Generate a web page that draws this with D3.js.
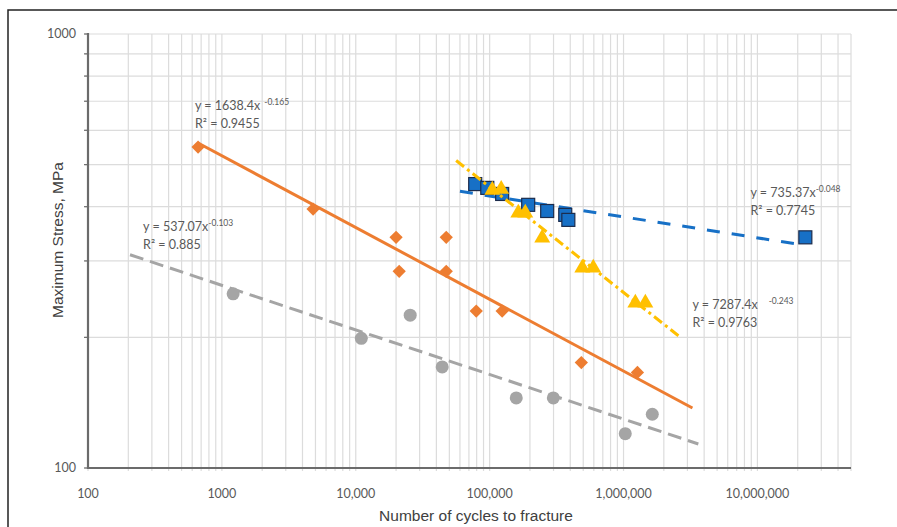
<!DOCTYPE html>
<html>
<head>
<meta charset="utf-8">
<script src="https://d3js.org/d3.v7.min.js"></script>
<style>
  body { margin: 0; background: #fff; }
  svg text { font-family: Lato, 'Open Sans', sans-serif; fill: #595959; }
  .axis-title { font-family: 'Liberation Sans', Arial, sans-serif; fill: #404040; font-size: 15.5px; }
</style>
</head>
<body>
<svg id="chart" width="897" height="527"></svg>
<script>
// tick labels
const xTicks = [100, 1000, 10000, 100000, 1000000, 10000000];
const xTickLabels = ["100", "1000", "10,000", "100,000", "1,000,000", "10,000,000"];
const yTicks = [100, 1000];
const yTickLabels = ["100", "1000"];

// series (cycles, stress MPa)
const grayCycles = [1213, 11000, 25500, 44200, 158000, 299000, 1030000, 1640000];
const grayStress = [252, 199, 225, 171, 145, 145, 120, 133];

const orangeCycles = [664, 4800, 20000, 21100, 47400, 47400, 79400, 124000, 484000, 1270000];
const orangeStress = [549, 395, 340, 284, 340, 284, 230, 230, 175, 166];

const blueCycles = [78000, 96000, 124000, 194000, 269000, 367000, 387000, 22800000];
const blueStress = [451, 442, 428, 404, 391, 383, 373, 340];

const yellowCycles = [104600, 122000, 163700, 184500, 247000, 492000, 594000, 1225000, 1455000];
const yellowStress = [437, 439, 387, 387, 339, 289, 289, 240, 240];

// trendline end points
const grayTrend = [[206, 310], [3620000, 113.6]];
const orangeTrend = [[664, 561], [3270000, 137.5]];
const blueTrend = [[60000, 434], [19900000, 328]];
const yellowTrend = [[56200, 511], [2610000, 201]];

// trendline equations
const eqCoef = ["1638.4", "537.07", "735.37", "7287.4"];
const eqExp = ["-0.165", "-0.103", "-0.048", "-0.243"];
const eqR2 = ["0.9455", "0.885", "0.7745", "0.9763"];

const svg = d3.select("#chart");
const pLeft = 88, pRight = 851, pTop = 34, pBottom = 468;

const x = d3.scaleLog().domain([100, 50000000]).range([pLeft, pRight]);
const y = d3.scaleLog().domain([100, 1000]).range([pBottom, pTop]);

// outer frame
svg.append("path")
  .attr("d", "M8,527 L8,10 L897,10")
  .attr("fill", "none")
  .attr("stroke", "#222")
  .attr("stroke-width", 1.5);

// grid
const xGrid = [];
for (let d = 100; d < 50000000; d *= 10) {
  for (let k = 1; k <= 9; k++) if (d * k <= 50000000) xGrid.push(d * k);
}
const yGrid = d3.range(1, 11).map(k => k * 100);

const grid = svg.append("g");
grid.selectAll(".vg").data(xGrid).enter().append("line")
  .attr("x1", d => x(d)).attr("x2", d => x(d))
  .attr("y1", pTop).attr("y2", pBottom + 3)
  .attr("stroke", "#dcdcdc").attr("stroke-width", 1.2);
grid.selectAll(".hg").data(yGrid).enter().append("line")
  .attr("x1", pLeft - 3).attr("x2", pRight)
  .attr("y1", d => y(d)).attr("y2", d => y(d))
  .attr("stroke", "#dcdcdc").attr("stroke-width", 1.2);

// left tick notches
grid.selectAll(".yt").data(yGrid).enter().append("line")
  .attr("x1", pLeft - 4).attr("x2", pLeft)
  .attr("y1", d => y(d)).attr("y2", d => y(d))
  .attr("stroke", "#6b6b6b").attr("stroke-width", 1.2);

// axis lines
svg.append("line").attr("x1", pLeft).attr("x2", pLeft).attr("y1", pTop - 1).attr("y2", pBottom + 1)
  .attr("stroke", "#6b6b6b").attr("stroke-width", 2.2);
svg.append("line").attr("x1", pLeft - 1).attr("x2", pRight).attr("y1", pBottom).attr("y2", pBottom)
  .attr("stroke", "#6b6b6b").attr("stroke-width", 2.2);

// tick labels
svg.selectAll(".xl").data(xTicks).enter().append("text")
  .attr("x", d => x(d)).attr("y", 498)
  .attr("text-anchor", "middle").attr("font-size", 12.5)
  .text((d, i) => xTickLabels[i]);
svg.selectAll(".yl").data(yTicks).enter().append("text")
  .attr("x", 76).attr("y", d => y(d) + 4)
  .attr("text-anchor", "end").attr("font-size", 12.5)
  .text((d, i) => yTickLabels[i]);

// axis titles
svg.append("text").attr("class", "axis-title")
  .attr("x", 476).attr("y", 521).attr("text-anchor", "middle")
  .text("Number of cycles to fracture");
svg.append("text").attr("class", "axis-title")
  .attr("transform", "translate(63,240) rotate(-90)").attr("text-anchor", "middle")
  .text("Maximum Stress, MPa");

const line = d3.line().x(d => x(d[0])).y(d => y(d[1]));
const zip = (a, b) => a.map((v, i) => [v, b[i]]);

function trend(pts, color, dash) {
  svg.append("path").datum(pts)
    .attr("d", line)
    .attr("fill", "none")
    .attr("stroke", color)
    .attr("stroke-width", 3)
    .attr("stroke-dasharray", dash);
}

// gray series
trend(grayTrend, "#a5a5a5", "14,7");
svg.append("g").selectAll("circle").data(zip(grayCycles, grayStress)).enter().append("circle")
  .attr("cx", d => x(d[0])).attr("cy", d => y(d[1])).attr("r", 6.5)
  .attr("fill", "#a5a5a5");

// orange series
trend(orangeTrend, "#ed7d31", null);
svg.append("g").selectAll("path").data(zip(orangeCycles, orangeStress)).enter().append("path")
  .attr("d", d3.symbol().type(d3.symbolSquare).size(88))
  .attr("transform", d => `translate(${x(d[0])},${y(d[1])}) rotate(45)`)
  .attr("fill", "#ed7d31");

// blue series
trend(blueTrend, "#1770c6", "13,12");
svg.append("g").selectAll("rect").data(zip(blueCycles, blueStress)).enter().append("rect")
  .attr("x", d => x(d[0]) - 6.5).attr("y", d => y(d[1]) - 6.5)
  .attr("width", 13).attr("height", 13)
  .attr("fill", "#1770c6").attr("stroke", "#1c2c4c").attr("stroke-width", 1.2);

// yellow series
svg.append("g").selectAll("path").data(zip(yellowCycles, yellowStress)).enter().append("path")
  .attr("d", d3.symbol().type(d3.symbolTriangle).size(110))
  .attr("transform", d => `translate(${x(d[0])},${y(d[1])})`)
  .attr("fill", "#ffc000");
trend(yellowTrend, "#ffc000", "10,4,3,4");

// equation labels (anchored in data space)
const eqAt = [[630, 668], [258, 352], [8870000, 421], [3270000, 232]];
const eqGap = [4, 0, 0, 11];
eqAt.forEach((p, i) => {
  const t = svg.append("text")
    .attr("x", x(p[0])).attr("y", y(p[1])).attr("font-size", 12.5);
  t.append("tspan").text("y = " + eqCoef[i] + "x");
  t.append("tspan").attr("dx", eqGap[i]).attr("dy", -5).attr("font-size", 8.5).text(eqExp[i]);
  svg.append("text")
    .attr("x", x(p[0])).attr("y", y(p[1]) + 18).attr("font-size", 12.5)
    .text("R² = " + eqR2[i]);
});
</script>
</body>
</html>
